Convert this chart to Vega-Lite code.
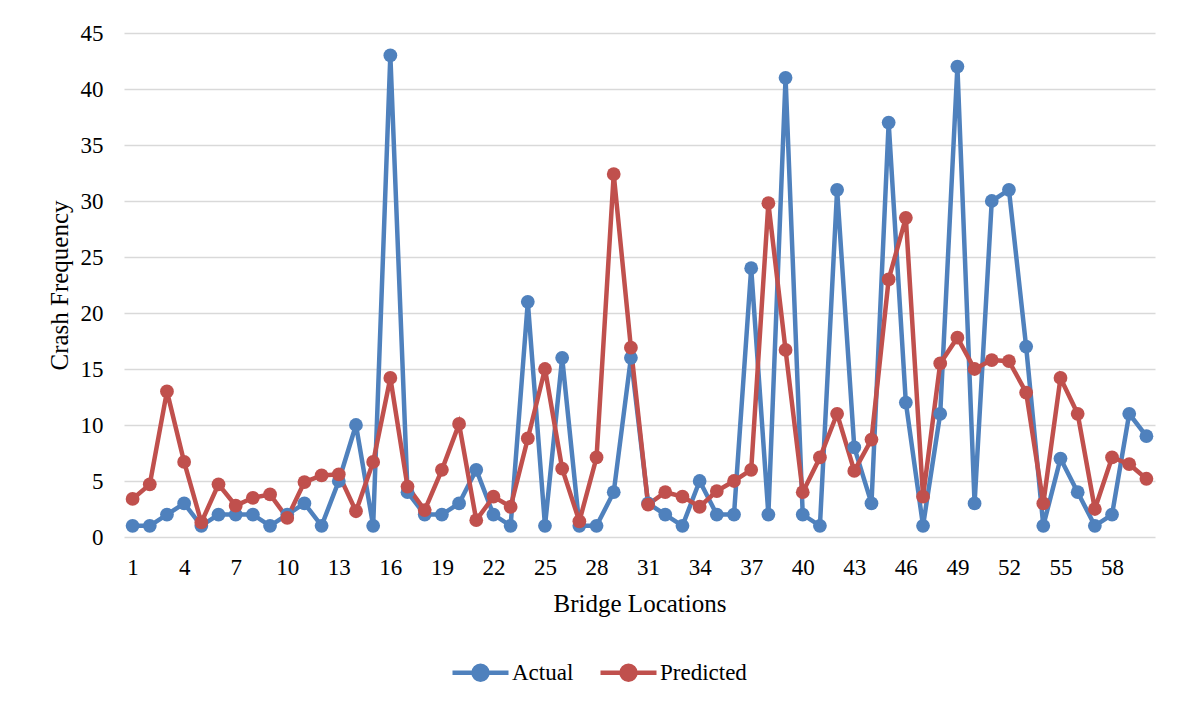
{
  "$schema": "https://vega.github.io/schema/vega-lite/v6.json",
  "autosize": {"type": "none"},
  "padding": {"left": 124, "top": 33, "right": 31, "bottom": 168},
  "width": 1031,
  "height": 504,
  "background": "white",
  "config": {
    "font": "Liberation Serif",
    "view": {"stroke": null}
  },
  "data": {
    "values": [
      {"loc": 1, "Actual": 1, "Predicted": 3.4},
      {"loc": 2, "Actual": 1, "Predicted": 4.7},
      {"loc": 3, "Actual": 2, "Predicted": 13},
      {"loc": 4, "Actual": 3, "Predicted": 6.7},
      {"loc": 5, "Actual": 1, "Predicted": 1.3},
      {"loc": 6, "Actual": 2, "Predicted": 4.7},
      {"loc": 7, "Actual": 2, "Predicted": 2.8},
      {"loc": 8, "Actual": 2, "Predicted": 3.5},
      {"loc": 9, "Actual": 1, "Predicted": 3.8},
      {"loc": 10, "Actual": 2, "Predicted": 1.7},
      {"loc": 11, "Actual": 3, "Predicted": 4.9},
      {"loc": 12, "Actual": 1, "Predicted": 5.5},
      {"loc": 13, "Actual": 5, "Predicted": 5.6},
      {"loc": 14, "Actual": 10, "Predicted": 2.3},
      {"loc": 15, "Actual": 1, "Predicted": 6.7},
      {"loc": 16, "Actual": 43, "Predicted": 14.2},
      {"loc": 17, "Actual": 4, "Predicted": 4.5},
      {"loc": 18, "Actual": 2, "Predicted": 2.4},
      {"loc": 19, "Actual": 2, "Predicted": 6.0},
      {"loc": 20, "Actual": 3, "Predicted": 10.1},
      {"loc": 21, "Actual": 6, "Predicted": 1.5},
      {"loc": 22, "Actual": 2, "Predicted": 3.6},
      {"loc": 23, "Actual": 1, "Predicted": 2.7},
      {"loc": 24, "Actual": 21, "Predicted": 8.8},
      {"loc": 25, "Actual": 1, "Predicted": 15},
      {"loc": 26, "Actual": 16, "Predicted": 6.1},
      {"loc": 27, "Actual": 1, "Predicted": 1.4},
      {"loc": 28, "Actual": 1, "Predicted": 7.1},
      {"loc": 29, "Actual": 4, "Predicted": 32.4},
      {"loc": 30, "Actual": 16, "Predicted": 16.9},
      {"loc": 31, "Actual": 3, "Predicted": 2.9},
      {"loc": 32, "Actual": 2, "Predicted": 4.0},
      {"loc": 33, "Actual": 1, "Predicted": 3.6},
      {"loc": 34, "Actual": 5, "Predicted": 2.7},
      {"loc": 35, "Actual": 2, "Predicted": 4.1},
      {"loc": 36, "Actual": 2, "Predicted": 5.0},
      {"loc": 37, "Actual": 24, "Predicted": 6.0},
      {"loc": 38, "Actual": 2, "Predicted": 29.8},
      {"loc": 39, "Actual": 41, "Predicted": 16.7},
      {"loc": 40, "Actual": 2, "Predicted": 4.0},
      {"loc": 41, "Actual": 1, "Predicted": 7.1},
      {"loc": 42, "Actual": 31, "Predicted": 11.0},
      {"loc": 43, "Actual": 8, "Predicted": 5.9},
      {"loc": 44, "Actual": 3, "Predicted": 8.7},
      {"loc": 45, "Actual": 37, "Predicted": 23},
      {"loc": 46, "Actual": 12, "Predicted": 28.5},
      {"loc": 47, "Actual": 1, "Predicted": 3.6},
      {"loc": 48, "Actual": 11, "Predicted": 15.5},
      {"loc": 49, "Actual": 42, "Predicted": 17.8},
      {"loc": 50, "Actual": 3, "Predicted": 15.0},
      {"loc": 51, "Actual": 30, "Predicted": 15.8},
      {"loc": 52, "Actual": 31, "Predicted": 15.7},
      {"loc": 53, "Actual": 17, "Predicted": 12.9},
      {"loc": 54, "Actual": 1, "Predicted": 3.0},
      {"loc": 55, "Actual": 7, "Predicted": 14.2},
      {"loc": 56, "Actual": 4, "Predicted": 11.0},
      {"loc": 57, "Actual": 1, "Predicted": 2.5},
      {"loc": 58, "Actual": 2, "Predicted": 7.1},
      {"loc": 59, "Actual": 11, "Predicted": 6.5},
      {"loc": 60, "Actual": 9, "Predicted": 5.2}
    ]
  },
  "transform": [{"fold": ["Actual", "Predicted"], "as": ["series", "value"]}],
  "encoding": {
    "x": {
      "field": "loc", "type": "ordinal", "sort": "ascending",
      "scale": {"paddingInner": 0, "paddingOuter": 0},
      "axis": {"values": [1,4,7,10,13,16,19,22,25,28,31,34,37,40,43,46,49,52,55,58], "labelAngle": 0, "ticks": false, "domain": false, "grid": false, "labelPadding": 19, "labelFont": "Liberation Serif", "labelFontSize": 23, "labelColor": "#000", "title": "Bridge Locations", "titleFont": "Liberation Serif", "titleFontSize": 25, "titleFontWeight": "normal", "titleColor": "#000", "titlePadding": 12}
    },
    "y": {
      "field": "value", "type": "quantitative",
      "scale": {"domain": [0, 45], "nice": false},
      "axis": {"values": [0,5,10,15,20,25,30,35,40,45], "ticks": false, "domain": false, "grid": true, "gridColor": "#D9D9D9", "gridWidth": 1.5, "labelPadding": 21, "labelFont": "Liberation Serif", "labelFontSize": 23, "labelColor": "#000", "title": "Crash Frequency", "titleFont": "Liberation Serif", "titleFontSize": 25, "titleFontWeight": "normal", "titleColor": "#000", "titlePadding": 8}
    },
    "color": {
      "field": "series", "type": "nominal",
      "scale": {"domain": ["Actual", "Predicted"], "range": ["#4F81BD", "#C0504D"]},
      "legend": {
        "title": null, "orient": "none", "direction": "horizontal",
        "legendX": 326, "legendY": 609,
        "labelFont": "Liberation Serif", "labelFontSize": 23, "labelColor": "#000",
        "symbolType": "M-1,0H1M-0.25,0A0.25,0.25,0,1,0,0.25,0A0.25,0.25,0,1,0,-0.25,0",
        "symbolSize": 3136, "symbolStrokeWidth": 4.5, "columnPadding": 17, "labelOffset": 1,
        "encode": {"symbols": {"update": {"fill": {"scale": "color", "field": "value"}, "opacity": {"value": 1}}}}
      }
    }
  },
  "layer": [
    {"mark": {"type": "line", "strokeWidth": 4.5}},
    {"mark": {"type": "circle", "size": 190, "opacity": 1}}
  ]
}
